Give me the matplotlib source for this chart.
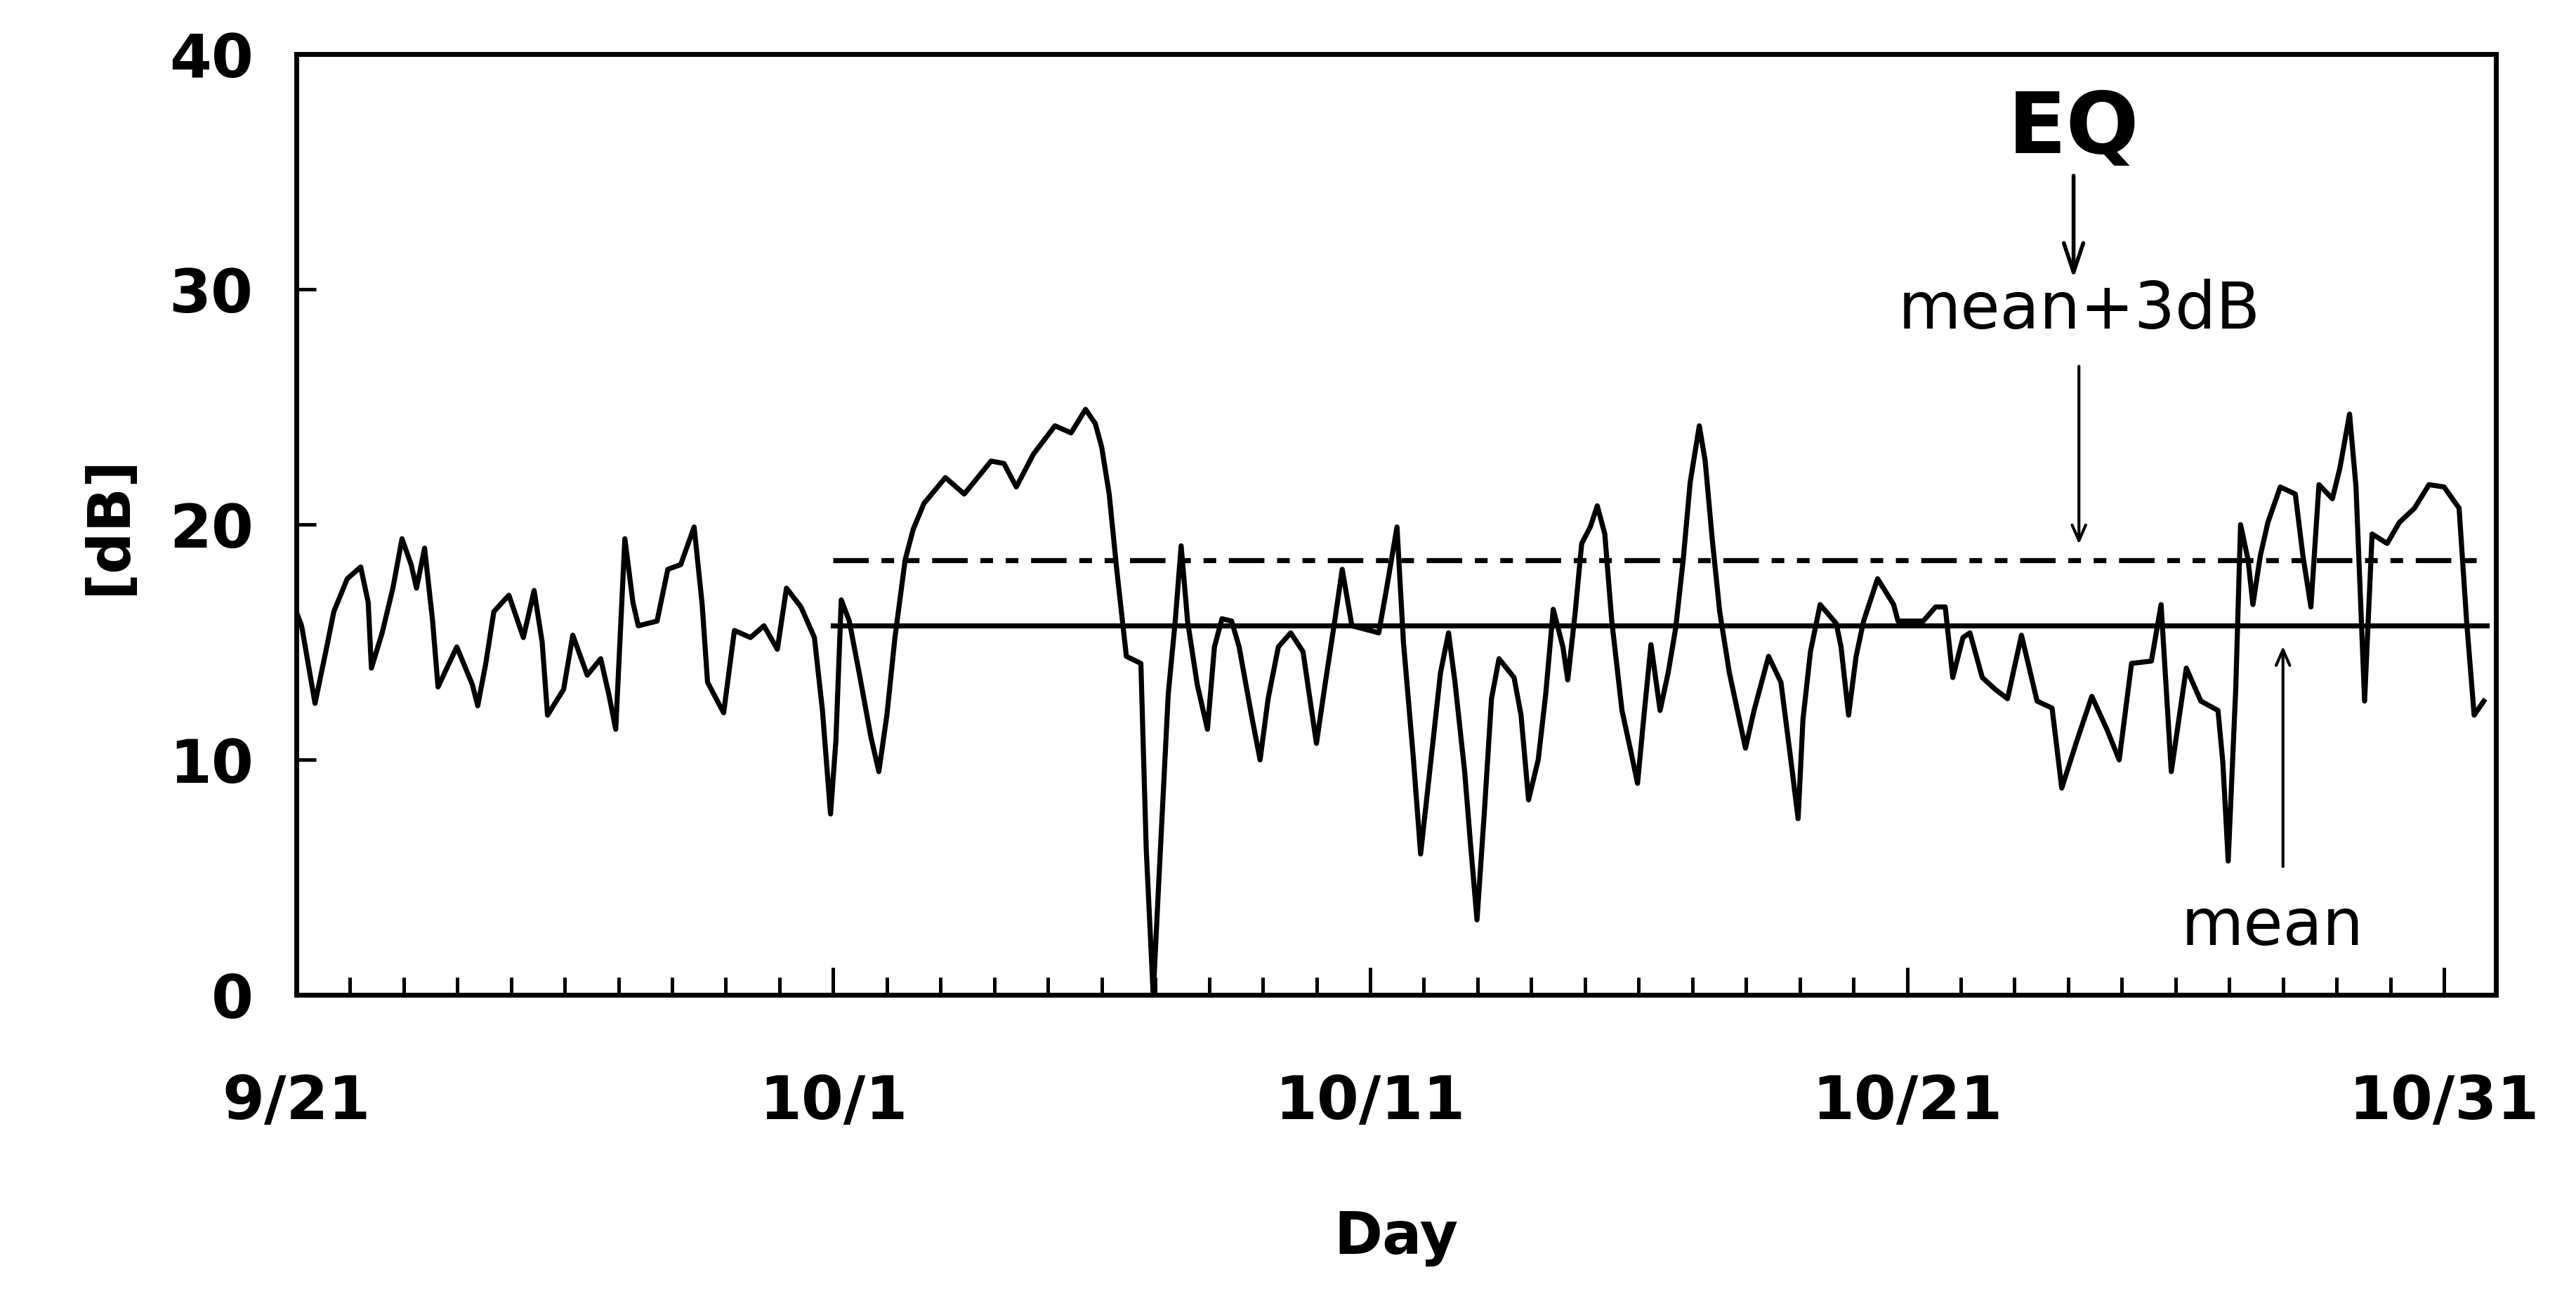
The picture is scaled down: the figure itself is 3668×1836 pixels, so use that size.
import matplotlib
matplotlib.use("Agg")
import matplotlib.pyplot as plt

days = [0, 0.1, 0.35, 0.55, 0.7, 0.95, 1.2, 1.34, 1.4, 1.6, 1.8, 1.97, 2.14, 2.24, 2.39, 2.54, 2.64, 2.99, 3.28, 3.38,
        3.53, 3.68, 3.96, 4.23, 4.43, 4.58, 4.68, 4.98, 5.15, 5.42, 5.67, 5.82, 5.95, 6.12, 6.27, 6.37, 6.72, 6.92, 7.16, 7.41,
        7.56, 7.66, 7.96, 8.16, 8.46, 8.71, 8.96, 9.13, 9.4, 9.65, 9.8, 9.95, 10.05, 10.15, 10.3, 10.5, 10.7, 10.85, 11.0, 11.15,
        11.34, 11.49, 11.69, 12.09, 12.44, 12.94, 13.18, 13.41, 13.73, 14.13, 14.43, 14.7, 14.88, 15.0, 15.14, 15.28, 15.46, 15.73, 15.83, 15.96,
        16.05, 16.24, 16.37, 16.48, 16.6, 16.78, 16.97, 17.1, 17.24, 17.42, 17.56, 17.79, 17.95, 18.1, 18.29, 18.52, 18.75, 18.89, 19.0, 19.16,
        19.34, 19.48, 19.66, 20.16, 20.3, 20.5, 20.62, 20.8, 20.94, 21.08, 21.31, 21.46, 21.58, 21.76, 21.87, 21.99, 22.13, 22.26, 22.4, 22.68,
        22.81, 22.95, 23.13, 23.27, 23.41, 23.59, 23.68, 23.82, 23.94, 24.1, 24.23, 24.37, 24.5, 24.69, 24.87, 24.98, 25.1, 25.23, 25.4, 25.55,
        25.69, 25.83, 25.96, 26.13, 26.24, 26.37, 26.51, 26.69, 26.83, 26.99, 27.15, 27.42, 27.65, 27.84, 27.97, 28.06, 28.2, 28.38, 28.68, 28.77,
        28.91, 29.05, 29.19, 29.45, 29.75, 29.83, 30.3, 30.53, 30.71, 30.85, 31.04, 31.17, 31.4, 31.64, 31.87, 32.13, 32.42, 32.7, 32.88, 33.16,
        33.44, 33.72, 33.95, 34.18, 34.55, 34.73, 34.92, 35.2, 35.47, 35.79, 35.88, 35.98, 36.12, 36.21, 36.35, 36.44, 36.58, 36.72, 36.95, 37.23,
        37.37, 37.52, 37.67, 37.92, 38.06, 38.24, 38.36, 38.52, 38.66, 38.94, 39.17, 39.45, 39.72, 40.0, 40.28, 40.42, 40.56, 40.74]
values = [16.3, 15.7, 12.4, 14.6, 16.3, 17.7, 18.2, 16.7, 13.9, 15.4, 17.3, 19.4, 18.3, 17.3, 19.0, 15.9, 13.1, 14.8, 13.2, 12.3,
          14.1, 16.3, 17.0, 15.2, 17.2, 15.0, 11.9, 13.0, 15.3, 13.6, 14.3, 12.8, 11.3, 19.4, 16.7, 15.7, 15.9, 18.1, 18.3, 19.9,
          16.6, 13.3, 12.0, 15.5, 15.2, 15.7, 14.7, 17.3, 16.5, 15.2, 12.1, 7.7, 10.8, 16.8, 15.9, 13.5, 11.0, 9.5, 11.9, 15.2,
          18.5, 19.8, 20.9, 22.0, 21.3, 22.7, 22.6, 21.6, 23.0, 24.2, 23.9, 24.9, 24.3, 23.3, 21.3, 18.1, 14.4, 14.1, 6.2, 0.0,
          4.2, 12.8, 15.9, 19.1, 15.9, 13.2, 11.3, 14.8, 16.0, 15.9, 14.8, 11.9, 10.0, 12.6, 14.8, 15.4, 14.6, 12.4, 10.7, 13.2,
          15.9, 18.1, 15.7, 15.4, 17.2, 19.9, 15.0, 10.2, 6.0, 8.9, 13.7, 15.4, 13.3, 9.5, 6.4, 3.2, 7.9, 12.6, 14.3, 13.5,
          11.9, 8.3, 10.0, 12.8, 16.4, 14.8, 13.4, 16.3, 19.2, 19.9, 20.8, 19.6, 15.9, 12.1, 10.2, 9.0, 11.9, 14.9, 12.1, 13.7,
          15.6, 18.5, 21.8, 24.2, 22.7, 19.4, 16.3, 13.7, 12.2, 10.5, 12.1, 14.4, 13.3, 9.9, 7.5, 11.7, 14.6, 16.6, 15.8, 14.8,
          11.9, 14.4, 15.9, 17.7, 16.6, 15.9, 15.9, 16.5, 16.5, 13.5, 15.2, 15.4, 13.5, 13.0, 12.6, 15.3, 12.5, 12.2, 8.8, 10.8,
          12.7, 11.3, 10.0, 14.1, 14.2, 16.6, 9.5, 13.9, 12.5, 12.1, 9.9, 5.7, 13.0, 20.0, 18.5, 16.6, 18.7, 20.1, 21.6, 21.3,
          18.7, 16.5, 21.7, 21.1, 22.4, 24.7, 21.6, 12.5, 19.6, 19.2, 20.1, 20.7, 21.7, 21.6, 20.7, 15.9, 11.9, 12.5]

mean_val = 15.7
mean3_val = 18.5
line_start, line_end = 10.0, 40.8
tick_pos = [0, 10, 20, 30, 40]
tick_labels = ["9/21", "10/1", "10/11", "10/21", "10/31"]

fig = plt.figure(figsize=(18.34, 9.18), dpi=200)
ax = fig.add_axes([0.115, 0.228, 0.854, 0.73])
ax.plot(days, values, color="black", lw=2.6)
ax.plot([line_start, line_end], [mean_val, mean_val], color="black", lw=2.6)
ax.plot([line_start, line_end], [mean3_val, mean3_val], color="black", lw=2.6, ls=(0, (7, 2.5, 2.5, 2.5, 2.5, 2.5)))
ax.set_xlim(0, 40.97)
ax.set_ylim(0, 40)
ax.set_yticks([0, 10, 20, 30, 40])
ax.set_xticks(tick_pos)
ax.set_xticklabels(tick_labels)
ax.set_xticks(list(range(41)), minor=True)
ax.tick_params(axis="x", which="major", length=14, width=1.8, direction="in", pad=40)
ax.tick_params(axis="x", which="minor", length=9, width=1.8, direction="in")
ax.tick_params(axis="y", length=10, width=1.8, direction="in", pad=22)
for lab in ax.get_xticklabels() + ax.get_yticklabels():
    lab.set_fontsize(31); lab.set_fontweight("bold")
for s in ax.spines.values():
    s.set_linewidth(2.5)
ax.set_xlabel("Day", fontsize=30, fontweight="bold", labelpad=40)
ax.set_ylabel("[dB]", fontsize=30, fontweight="bold", labelpad=16)

ax.text(33.1, 36.8, "EQ", fontsize=44, fontweight="bold", ha="center", va="center")
ax.annotate("", xy=(33.1, 30.3), xytext=(33.1, 35.0),
            arrowprops=dict(arrowstyle="->,head_length=1.5,head_width=0.5", lw=2, color="black"))
ax.text(33.2, 29.1, "mean+3dB", fontsize=33, ha="center", va="center")
ax.annotate("", xy=(33.2, 19.0), xytext=(33.2, 26.9),
            arrowprops=dict(arrowstyle="->,head_length=0.8,head_width=0.35", lw=1.5, color="black"))
ax.text(36.8, 2.9, "mean", fontsize=33, ha="center", va="center")
ax.annotate("", xy=(37.0, 15.0), xytext=(37.0, 5.3),
            arrowprops=dict(arrowstyle="->,head_length=0.8,head_width=0.35", lw=1.5, color="black"))
fig.savefig("out.png", dpi=200, facecolor="white")
